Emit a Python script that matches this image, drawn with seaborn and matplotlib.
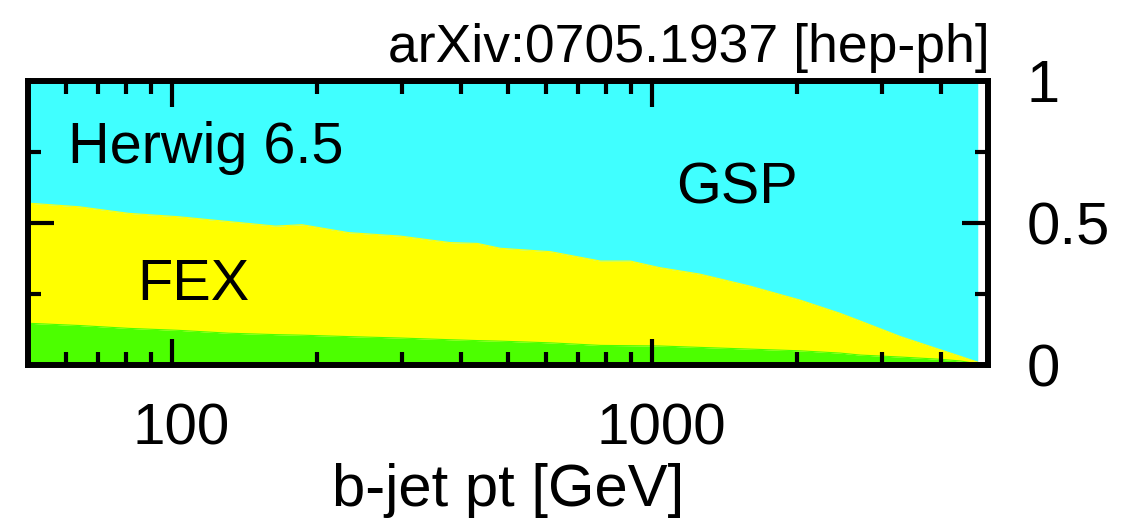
import numpy as np
import matplotlib
matplotlib.use("Agg")
import matplotlib.pyplot as plt
import matplotlib.transforms as mtransforms
from matplotlib.ticker import LogLocator, FixedLocator, FixedFormatter, NullFormatter
import seaborn as sns

# b-jet transverse momentum bin centres [GeV]
pt = [50, 64, 81, 103, 131, 164, 186, 233, 298, 379, 432, 482, 613, 779,
      899, 1034, 1255, 1595, 2026, 2459, 2708, 3287, 3990, 4390, 4760]
# fraction from flavour creation (bottom band)
fcr = [0.147, 0.139, 0.129, 0.122, 0.112, 0.107, 0.105, 0.100, 0.095, 0.089,
       0.086, 0.084, 0.078, 0.069, 0.068, 0.067, 0.062, 0.056, 0.050, 0.042,
       0.035, 0.028, 0.020, 0.014, 0.004]
# fraction from flavour excitation (middle band)
fex = [0.423, 0.418, 0.405, 0.400, 0.393, 0.382, 0.389, 0.366, 0.359, 0.342,
       0.342, 0.327, 0.321, 0.297, 0.298, 0.276, 0.258, 0.222, 0.179, 0.140,
       0.120, 0.072, 0.033, 0.016, 0.006]

xticks = [100, 1000]
xtick_labels = ["100", "1000"]
yticks = [0, 0.5, 1]
ytick_labels = ["0", "0.5", "1"]

sns.set_style("ticks")
plt.rcParams["font.family"] = ["Liberation Sans", "DejaVu Sans"]
plt.rcParams["text.color"] = "black"
plt.rcParams["xtick.color"] = "black"
plt.rcParams["ytick.color"] = "black"
plt.rcParams["axes.labelcolor"] = "black"

pt_a = np.array(pt)
fcr_a = np.array(fcr)
fex_top = fcr_a + np.array(fex)
gsp_top = np.ones_like(fcr_a)

fig = plt.figure(figsize=(11.27, 5.19), dpi=100)
ax = fig.add_axes([28 / 1127, 1 - 365 / 519, 960 / 1127, 284 / 519])
ax.set_facecolor("white")
ax.set_axisbelow(False)

col_fcr = "#4cff00"
col_fex = "#ffff00"
col_gsp = "#40ffff"

ax.fill_between(pt_a, 0, fcr_a, color=col_fcr, lw=0, zorder=0.2)
ax.fill_between(pt_a, fcr_a, fex_top, color=col_fex, lw=0, zorder=0.2)
ax.fill_between(pt_a, fex_top, gsp_top, color=col_gsp, lw=0, zorder=0.2)
# band edges
sns.lineplot(x=pt_a, y=fcr_a, ax=ax, color=col_fcr, lw=0.8, estimator=None,
             zorder=0.3)
sns.lineplot(x=pt_a, y=fex_top, ax=ax, color=col_fex, lw=0.8, estimator=None,
             zorder=0.3)

ax.set_xscale("log")
ax.set_xlim(50, 5000)
ax.set_ylim(0, 1)

ax.xaxis.set_major_locator(FixedLocator(xticks))
ax.xaxis.set_major_formatter(FixedFormatter(xtick_labels))
ax.xaxis.set_minor_locator(LogLocator(base=10, subs=np.arange(2, 10)))
ax.xaxis.set_minor_formatter(NullFormatter())
ax.yaxis.set_major_locator(FixedLocator(yticks))
ax.yaxis.set_major_formatter(FixedFormatter(ytick_labels))
ax.yaxis.set_minor_locator(FixedLocator([0.25, 0.75]))

ax.tick_params(which="both", direction="in", top=True, bottom=True,
               left=True, right=True, labelleft=False, labelright=True,
               width=3, color="black", labelcolor="black", labelsize=42)
ax.tick_params(which="major", length=19)
ax.tick_params(which="minor", length=9.5)
ax.tick_params(axis="x", pad=27)
ax.tick_params(axis="y", labelsize=43, pad=28)

# nudge the x tick labels slightly to the right
shift = mtransforms.ScaledTranslation(9 / 100, 0, fig.dpi_scale_trans)
for lab in ax.get_xticklabels():
    lab.set_transform(lab.get_transform() + shift)

for s in ax.spines.values():
    s.set_linewidth(4.3)
    s.set_color("black")
    s.set_zorder(5)

ax.set_xlabel("b-jet pt [GeV]", fontsize=43, labelpad=5, color="black")
ax.set_ylabel("")

ax.text(60.7, 0.711, "Herwig 6.5", fontsize=41.5, ha="left", va="baseline")
ax.text(1122, 0.570, "GSP", fontsize=41.5, ha="left", va="baseline")
ax.text(84.5, 0.229, "FEX", fontsize=41.5, ha="left", va="baseline")

fig.text(990 / 1127, 1 - 62 / 519, "arXiv:0705.1937 [hep-ph]", fontsize=38.5,
         ha="right", va="baseline")

fig.savefig("out.png", dpi=100)
